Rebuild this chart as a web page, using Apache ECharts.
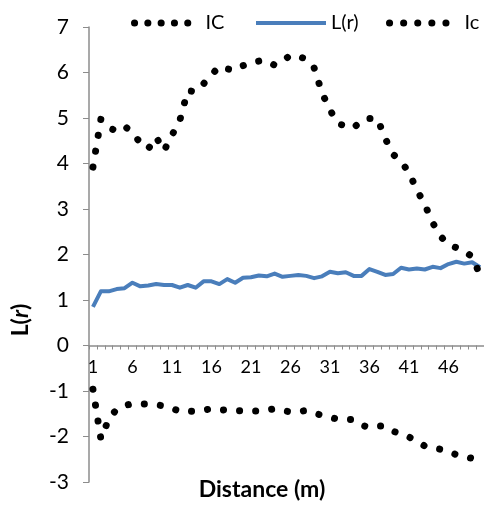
<!DOCTYPE html>
<html>
<head>
<meta charset="utf-8">
<script src="https://cdn.jsdelivr.net/npm/echarts@6/dist/echarts.min.js"></script>
<style>
  html, body { margin: 0; padding: 0; background: #fff; }
  #chart { width: 484px; height: 505px; }
</style>
</head>
<body>
<div id="chart"></div>
<script>
// Distance classes (m)
const distances = [
  '1','2','3','4','5','6','7','8','9','10',
  '11','12','13','14','15','16','17','18','19','20',
  '21','22','23','24','25','26','27','28','29','30',
  '31','32','33','34','35','36','37','38','39','40',
  '41','42','43','44','45','46','47','48','49','50'
];

// Upper confidence envelope
const upperIC = [
  3.92, 4.97, 4.78, 4.72, 4.82, 4.68, 4.45, 4.32, 4.58, 4.28,
  4.62, 4.95, 5.60, 5.58, 5.75, 5.95, 6.13, 6.08, 6.05, 6.15,
  6.22, 6.25, 6.26, 6.16, 6.25, 6.38, 6.35, 6.30, 6.10, 5.55,
  5.18, 4.88, 4.82, 4.78, 4.95, 4.99, 4.99, 4.55, 4.20, 4.05,
  3.80, 3.42, 3.10, 2.70, 2.40, 2.22, 2.15, 2.08, 1.95, 1.55
];

// Observed L(r)
const observedL = [
  0.85, 1.19, 1.19, 1.24, 1.26, 1.38, 1.30, 1.32, 1.35, 1.33,
  1.33, 1.27, 1.33, 1.27, 1.41, 1.41, 1.35, 1.46, 1.38, 1.49,
  1.50, 1.54, 1.52, 1.58, 1.51, 1.53, 1.55, 1.53, 1.48, 1.52,
  1.62, 1.59, 1.61, 1.53, 1.53, 1.68, 1.62, 1.55, 1.57, 1.71,
  1.67, 1.69, 1.67, 1.73, 1.70, 1.79, 1.84, 1.80, 1.83, 1.72
];

// Lower confidence envelope
const lowerIc = [
  -0.96, -2.05, -1.62, -1.40, -1.32, -1.28, -1.28, -1.29, -1.30, -1.33,
  -1.38, -1.45, -1.45, -1.44, -1.42, -1.39, -1.41, -1.42, -1.43, -1.44,
  -1.44, -1.44, -1.42, -1.39, -1.43, -1.46, -1.45, -1.43, -1.48, -1.54,
  -1.58, -1.62, -1.62, -1.63, -1.75, -1.80, -1.77, -1.77, -1.88, -1.96,
  -2.01, -2.10, -2.21, -2.25, -2.28, -2.33, -2.40, -2.44, -2.48, -2.52
];

// Value axis range
const yMin = -3;
const yMax = 7;
const yStep = 1;

const FONT = 'Lato, Carlito, "Liberation Sans", sans-serif';
const AXIS_GREY = '#8c8c8c';
const BLUE = '#4a7ebb';

const GRID = { left: 89, right: 0, top: 27, bottom: 23 };
const CHART_H = 505;
// Place the category axis on the zero line of the value axis
const plotH = CHART_H - GRID.top - GRID.bottom;
const zeroOffset = -plotH * (0 - yMin) / (yMax - yMin);

const chart = echarts.init(document.getElementById('chart'), null, { renderer: 'canvas' });

const dotLine = (gap) => ({ color: '#000', width: 7, type: [0.1, gap], cap: 'round', join: 'round' });
const hiddenSymbol = { color: 'rgba(0,0,0,0)', borderWidth: 0, opacity: 0 };
const legendText = { fontFamily: FONT, fontSize: 20, color: '#000' };

chart.setOption({
  animation: false,
  backgroundColor: '#fff',
  grid: Object.assign({ containLabel: false }, GRID),
  legend: [
    {
      data: ['IC'], left: 131, top: 13, padding: 0, itemWidth: 66, itemHeight: 14,
      lineStyle: { width: 7, type: [0.1, 13.2], cap: 'round' },
      itemStyle: hiddenSymbol, textStyle: legendText
    },
    {
      data: ['L(r)'], left: 254, top: 13, padding: 0, itemWidth: 70, itemHeight: 14,
      lineStyle: { width: 4 },
      itemStyle: hiddenSymbol, textStyle: legendText
    },
    {
      data: ['Ic'], left: 386, top: 13, padding: 0, itemWidth: 70, itemHeight: 14,
      lineStyle: { width: 7, type: [0.1, 14], cap: 'round' },
      itemStyle: hiddenSymbol, textStyle: legendText
    }
  ],
  xAxis: {
    type: 'category',
    data: distances,
    boundaryGap: true,
    position: 'bottom',
    offset: zeroOffset,
    axisLine: { onZero: false, lineStyle: { color: AXIS_GREY, width: 1.5 } },
    axisTick: { show: true, interval: 0, length: 4, lineStyle: { color: AXIS_GREY } },
    axisLabel: { interval: 4, fontFamily: FONT, fontSize: 18, color: '#000', margin: 13 },
    splitLine: { show: false }
  },
  yAxis: {
    type: 'value',
    min: yMin, max: yMax, interval: yStep,
    axisLine: { show: true, lineStyle: { color: AXIS_GREY, width: 1.5 } },
    axisTick: { show: true, length: 6, lineStyle: { color: AXIS_GREY } },
    axisLabel: { fontFamily: FONT, fontSize: 21, color: '#000', margin: 20 },
    splitLine: { show: false }
  },
  series: [
    {
      name: 'IC', type: 'line', data: upperIC, symbol: 'none',
      lineStyle: dotLine(16), z: 3
    },
    {
      name: 'L(r)', type: 'line', data: observedL, symbol: 'none',
      lineStyle: { color: BLUE, width: 4, join: 'round' }, itemStyle: { color: BLUE }, z: 2
    },
    {
      name: 'Ic', type: 'line', data: lowerIc, symbol: 'none',
      lineStyle: dotLine(16), z: 3
    }
  ],
  graphic: [
    {
      type: 'text', x: 21, y: 320, rotation: Math.PI / 2,
      style: {
        text: '{b|L(}{bi|r}{b|)}',
        align: 'center', verticalAlign: 'middle',
        textAlign: 'center', textVerticalAlign: 'middle',
        rich: {
          b: { fontFamily: FONT, fontSize: 23, fontWeight: 'bold', fill: '#000' },
          bi: { fontFamily: FONT, fontSize: 23, fontWeight: 'bold', fontStyle: 'italic', fill: '#000' }
        }
      }
    },
    {
      type: 'text', x: 262, y: 490,
      style: {
        text: 'Distance (m)',
        fontFamily: FONT, fontSize: 23, fontWeight: 'bold', fill: '#000',
        align: 'center', verticalAlign: 'middle',
        textAlign: 'center', textVerticalAlign: 'middle'
      }
    }
  ]
});
</script>
</body>
</html>
